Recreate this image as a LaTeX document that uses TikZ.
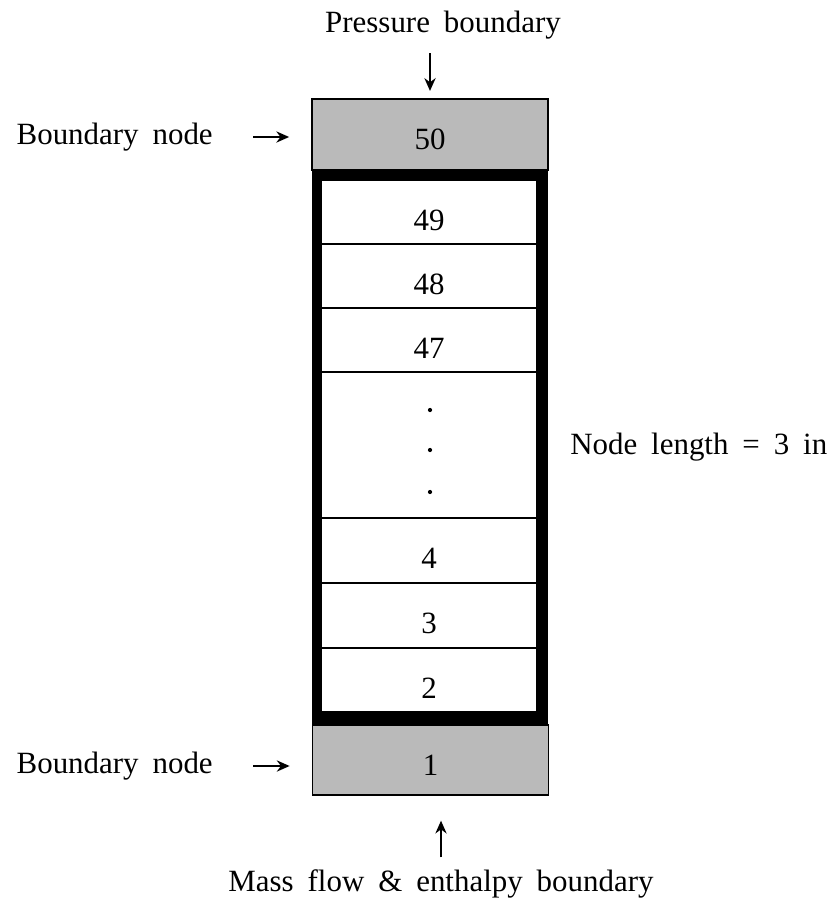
\documentclass[tikz,border=0pt]{standalone}
\usepackage{fontspec}
\setmainfont[WordSpace=1.8]{Liberation Serif}
\usetikzlibrary{arrows.meta}

\begin{document}
\begin{tikzpicture}[x=0.025cm,y=-0.025cm,
    every node/.style={font=\fontsize{22}{26}\selectfont},
    cell/.style={draw,fill=white,line width=0.8pt,minimum width=5.4cm,minimum height=1.6cm,
      inner sep=0pt,text height=0.92cm,text depth=0pt},
    bnode/.style={draw,fill=black!27,line width=1.2pt,minimum width=5.9cm,minimum height=1.775cm,
      inner sep=0pt,text height=0.77cm,text depth=0pt},
    lbl/.style={inner sep=0pt},
    arr/.style={-{Stealth[length=0.32cm,width=0.28cm]},line width=1.5pt}]
      \useasboundingbox (0,0) rectangle (838,906);
      % thick column
      \node[fill=black,minimum width=5.9cm,minimum height=13.875cm,inner sep=0pt] (col) at (430,447.5) {};
      \foreach \n/\y in {49/212,48/276,47/340,4/550.5,3/615.5,2/680} {
        \node[cell] (c\n) at (429,\y) {\n};
      }
      \node[cell,minimum height=3.65cm] (cdots) at (429,445) {};
      \foreach \y in {410,450,492} {
        \fill (430,\y) circle (1.5pt);
      }
      % boundary nodes
      \node[bnode] (c50) at (430,134.5) {50};
      \node[bnode,minimum height=1.75cm] (c1) at (430.5,760) {1};
      % labels
      \node[lbl] (ptext) at (443,25) {Pressure boundary};
      \node[lbl] (mtext) at (441,884) {Mass flow \& enthalpy boundary};
      \node[lbl,anchor=east] (btop) at (213,137) {Boundary node};
      \node[lbl,anchor=east] (bbot) at (213,766) {Boundary node};
      \node[lbl,anchor=west] (nlen) at (570,447) {Node length = 3 in};
      % arrows
      \draw[arr,shorten <=0.35cm,shorten >=0.18cm] (ptext.south -| c50.north) -- (c50.north);
      \draw[arr,shorten <=0.3cm,shorten >=0.62cm] (mtext.north) -- (mtext.north |- c1.south);
      \draw[arr,yshift=-0.075cm,shorten <=1cm,shorten >=0.55cm] (btop.east) -- (btop.east -| c50.west);
      \draw[arr,yshift=-0.175cm,shorten <=1cm,shorten >=0.55cm] (bbot.east) -- (bbot.east -| c1.west);
\end{tikzpicture}
\end{document}
